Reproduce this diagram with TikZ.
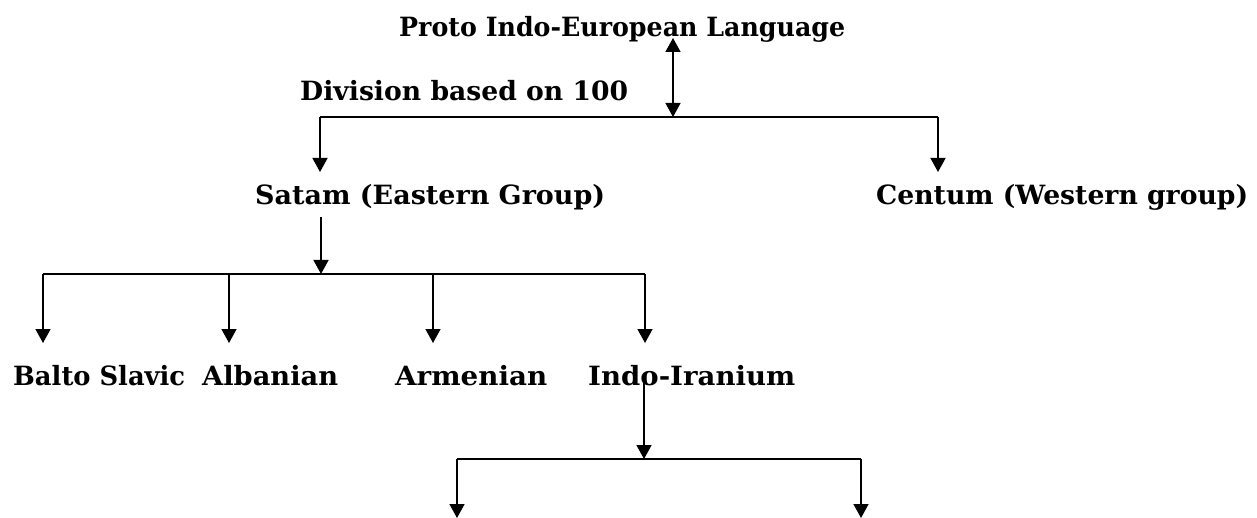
\documentclass[tikz,border=0pt]{standalone}
\usepackage{fontspec}
\usepackage{graphicx}
\setmainfont{DejaVu Serif}
\usetikzlibrary{arrows.meta}
\newcommand\fitto[2]{\sbox0{#2}\scalebox{\fpeval{#1/\wd0}}[1]{\usebox0}}
\begin{document}
\begin{tikzpicture}[x=1pt,y=-1pt,
  lbl/.style={anchor=base west,inner sep=0pt,font=\fontsize{26.5}{31}\selectfont\bfseries},
  conn/.style={line width=1.5pt,-{Triangle[length=14pt,width=15pt]}},
  bar/.style={line width=1.5pt}]
\useasboundingbox (0,0) rectangle (1257,518);
% labels
\node[lbl] (proto) at (399,37) {\fitto{446}{Proto Indo-European Language}};
\node[lbl] (division) at (300,101) {\fitto{328}{Division based on 100}};
\node[lbl] (satam) at (255,205) {\fitto{350}{Satam (Eastern Group)}};
\node[lbl] (centum) at (876,205) {\fitto{372}{Centum (Western group)}};
\node[lbl] (balto) at (13,385) {\fitto{172}{Balto Slavic}};
\node[lbl] (albanian) at (202,385) {\fitto{136}{Albanian}};
\node[lbl] (armenian) at (395,385) {\fitto{152}{Armenian}};
\node[lbl] (indo) at (588,385) {\fitto{207}{Indo-Iranium}};
% junction coordinates
\coordinate (ptop) at (673,38);
\coordinate (j1) at (673,117);
\coordinate (j1l) at (320,117);
\coordinate (j1r) at (938,117);
\coordinate (satin) at (320,172);
\coordinate (centin) at (938,172);
\coordinate (satout) at (321,217);
\coordinate (j2) at (321,274);
\coordinate (j2a) at (43,274);
\coordinate (j2b) at (229,274);
\coordinate (j2c) at (433,274);
\coordinate (j2d) at (645,274);
\coordinate (baltoin) at (43,343);
\coordinate (albin) at (229,343);
\coordinate (armin) at (433,343);
\coordinate (indoin) at (645,343);
\coordinate (indoout) at (644,383);
\coordinate (j3) at (644,459);
\coordinate (j3l) at (457,459);
\coordinate (j3r) at (861,459);
\coordinate (e1) at (457,518);
\coordinate (e2) at (861,518);
% connectors
\draw[line width=1.5pt,{Triangle[length=14pt,width=15pt]}-{Triangle[length=14pt,width=15pt]}] (ptop) -- (j1);
\draw[bar] (j1l) -- (j1r);
\draw[conn] (j1l) -- (satin);
\draw[conn] (j1r) -- (centin);
\draw[conn] (satout) -- (j2);
\draw[bar] (j2a) -- (j2d);
\draw[conn] (j2a) -- (baltoin);
\draw[conn] (j2b) -- (albin);
\draw[conn] (j2c) -- (armin);
\draw[conn] (j2d) -- (indoin);
\draw[conn] (indoout) -- (j3);
\draw[bar] (j3l) -- (j3r);
\draw[conn] (j3l) -- (e1);
\draw[conn] (j3r) -- (e2);
\end{tikzpicture}
\end{document}
